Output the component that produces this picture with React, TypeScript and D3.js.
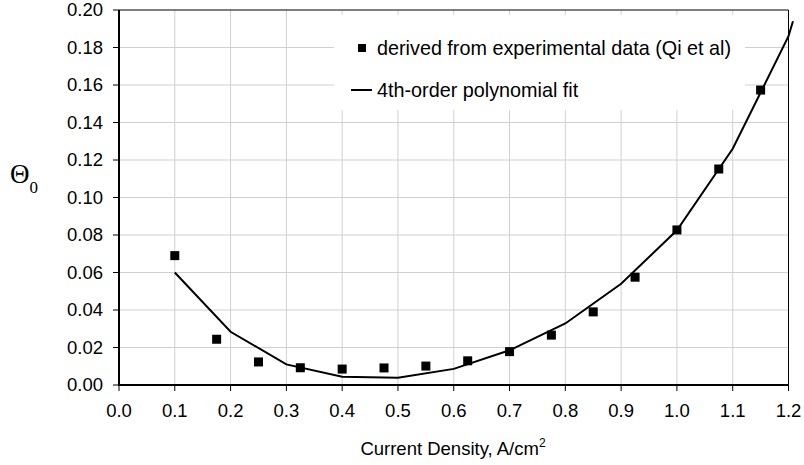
import React from "react";
import * as d3 from "d3";

const expX = [0.1, 0.175, 0.25, 0.325, 0.4, 0.475, 0.55, 0.625, 0.7, 0.775, 0.85, 0.925, 1.0, 1.075, 1.15];
const expY = [0.069, 0.0244, 0.0123, 0.0092, 0.0085, 0.0091, 0.0101, 0.0129, 0.0178, 0.0266, 0.039, 0.0575, 0.0827, 0.1152, 0.1573];
const fitX = [0.1, 0.2, 0.3, 0.4, 0.5, 0.6, 0.7, 0.8, 0.9, 1.0, 1.1, 1.2, 1.208];
const fitY = [0.06, 0.0284, 0.011, 0.0044, 0.0039, 0.0086, 0.0185, 0.0328, 0.054, 0.0825, 0.126, 0.186, 0.194];
const xTicks = [0, 0.1, 0.2, 0.3, 0.4, 0.5, 0.6, 0.7, 0.8, 0.9, 1.0, 1.1, 1.2];
const yTicks = [0, 0.02, 0.04, 0.06, 0.08, 0.1, 0.12, 0.14, 0.16, 0.18, 0.2];
const legendLabels = ["derived from experimental data (Qi et al)", "4th-order polynomial fit"];

const W = 804, H = 465;
const L = 119, R = 788.5, T = 10, B = 385;
const font = "Arial, 'Liberation Sans', sans-serif";
const serif = "'Liberation Serif', 'Times New Roman', serif";

export default function App() {
  const x = d3.scaleLinear().domain([0, 1.2]).range([L, R]);
  const y = d3.scaleLinear().domain([0, 0.2]).range([B, T]);
  const line = d3.line<number>().x((_, i) => x(fitX[i])).y((d) => y(d));
  const ms = 9;
  return (
    <svg width={W} height={H} style={{ position: "absolute", left: 0, top: 0, background: "#fff" }} fontFamily={font}>
      <rect x={0} y={0} width={W} height={H} fill="#fff" />
      {xTicks.slice(1, -1).map((t) => (
        <line key={"gx" + t} x1={x(t)} x2={x(t)} y1={T} y2={B} stroke="#d0d0d0" strokeWidth={1} />
      ))}
      {yTicks.slice(1, -1).map((t) => (
        <line key={"gy" + t} x1={L} x2={R} y1={y(t)} y2={y(t)} stroke="#d0d0d0" strokeWidth={1} />
      ))}
      <rect x={334} y={15} width={411} height={95} fill="#fff" />
      <line x1={L} x2={R} y1={T} y2={T} stroke="#000" strokeWidth={1} />
      <line x1={R} x2={R} y1={T} y2={B} stroke="#000" strokeWidth={1} />
      <line x1={L} x2={L} y1={T} y2={B + 1} stroke="#000" strokeWidth={2} />
      <line x1={L - 1} x2={R} y1={B} y2={B} stroke="#000" strokeWidth={2} />
      {yTicks.map((t) => (
        <g key={"yt" + t}>
          <line x1={L - 6} x2={L} y1={y(t)} y2={y(t)} stroke="#000" strokeWidth={1} />
          <text x={103} y={y(t)} dy="0.35em" textAnchor="end" fontSize={18.5} fill="#000">
            {t.toFixed(2)}
          </text>
        </g>
      ))}
      {xTicks.map((t) => (
        <g key={"xt" + t}>
          <line x1={x(t)} x2={x(t)} y1={B} y2={B + 6} stroke="#000" strokeWidth={1} />
          <text x={x(t)} y={411} dy="0.35em" textAnchor="middle" fontSize={18.5} fill="#000">
            {t.toFixed(1)}
          </text>
        </g>
      ))}
      <path d={line(fitY) || ""} fill="none" stroke="#000" strokeWidth={2} />
      {expY.map((v, i) => (
        <rect key={"p" + i} x={x(expX[i]) - ms / 2} y={y(v) - ms / 2} width={ms} height={ms} fill="#000" />
      ))}
      <rect x={358} y={44} width={8} height={8} fill="#000" />
      <text x={377} y={48} dy="0.35em" fontSize={19.8} fill="#000">{legendLabels[0]}</text>
      <line x1={351} x2={372} y1={90} y2={90} stroke="#000" strokeWidth={2} />
      <text x={377} y={90} dy="0.35em" fontSize={19.8} fill="#000">{legendLabels[1]}</text>
      <text x={453} y={455} textAnchor="middle" fontSize={18.5} fill="#000">
        Current Density, A/cm<tspan dy={-8} fontSize={12}>2</tspan>
      </text>
      <text x={10} y={183} fontSize={27} fontFamily={serif} fill="#000">
        Θ<tspan dy={10} fontSize={17}>0</tspan>
      </text>
    </svg>
  );
}
